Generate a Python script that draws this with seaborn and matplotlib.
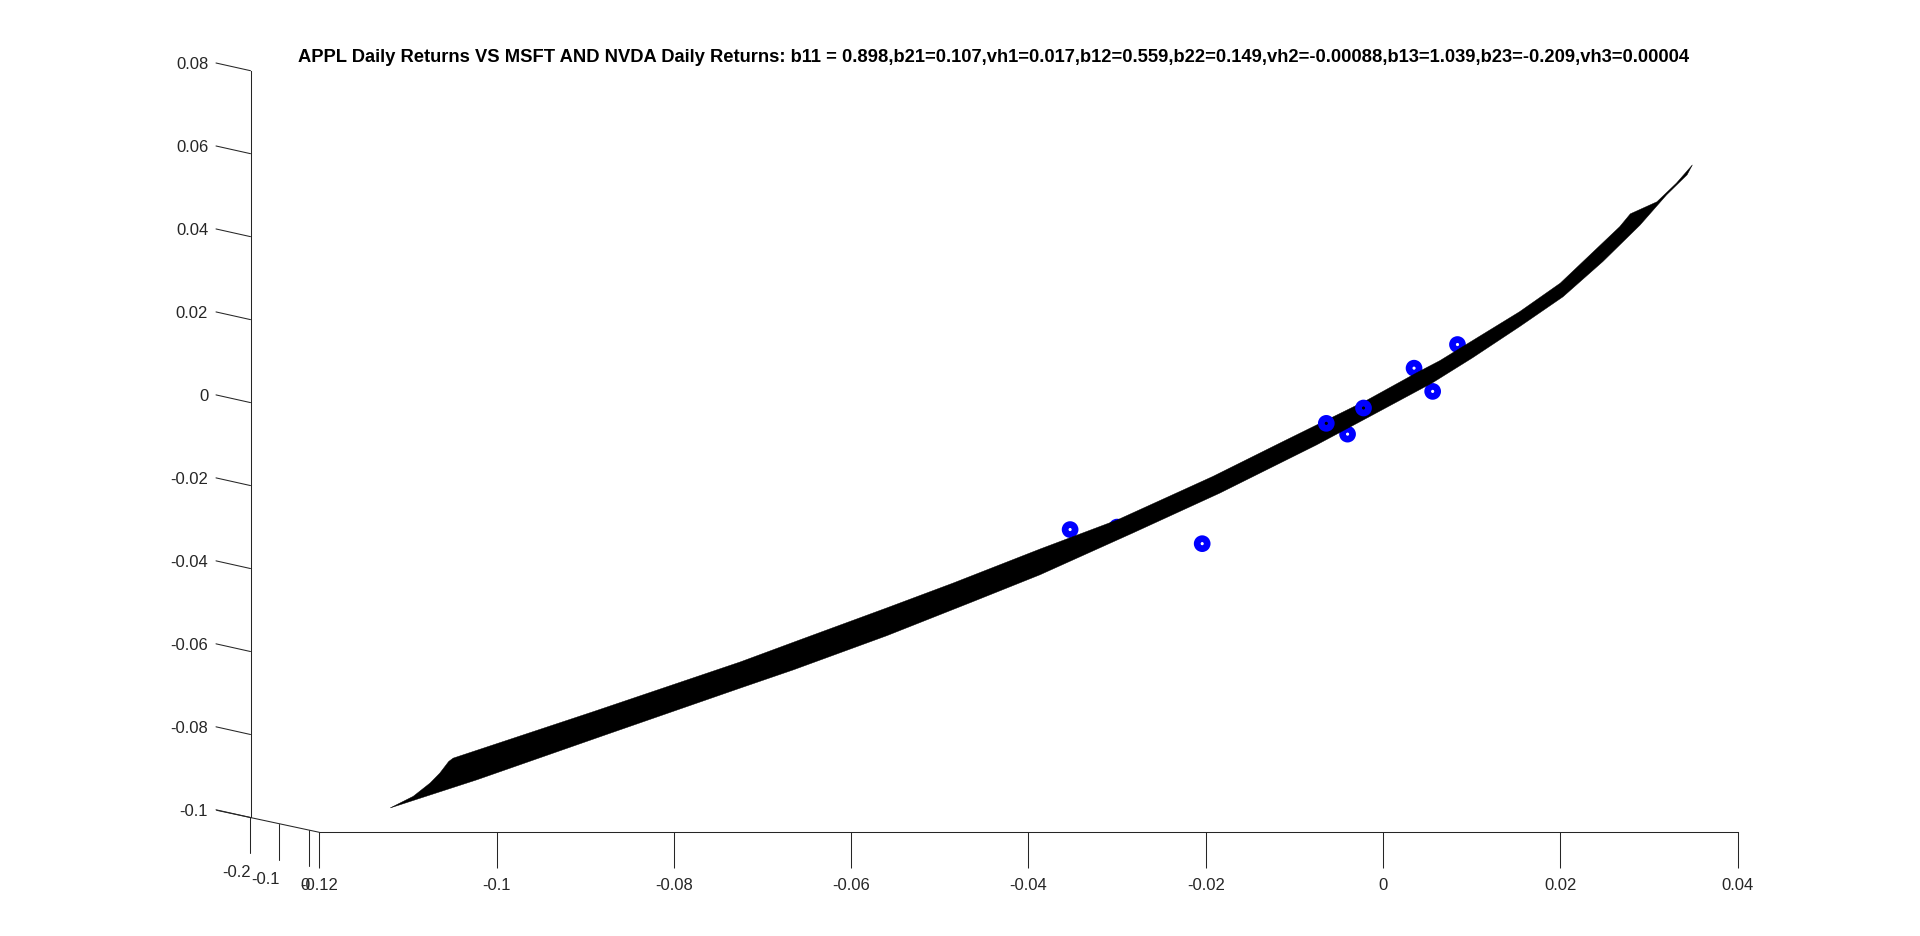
import numpy as np
import pandas as pd
import matplotlib
matplotlib.use("Agg")
import matplotlib.pyplot as plt
import matplotlib.transforms as mtrans
import seaborn as sns

# ---- data ----
TITLE = ("APPL Daily Returns VS MSFT AND NVDA Daily Returns: b11 = 0.898,b21=0.107,vh1=0.017,"
         "b12=0.559,b22=0.149,vh2=-0.00088,b13=1.039,b23=-0.209,vh3=0.00004")

x_ticks = [-0.12, -0.10, -0.08, -0.06, -0.04, -0.02, 0.0, 0.02, 0.04]
x_labels = ["-0.12", "-0.1", "-0.08", "-0.06", "-0.04", "-0.02", "0", "0.02", "0.04"]
z_ticks = [-0.10, -0.08, -0.06, -0.04, -0.02, 0.0, 0.02, 0.04, 0.06, 0.08]
z_labels = ["-0.1", "-0.08", "-0.06", "-0.04", "-0.02", "0", "0.02", "0.04", "0.06", "0.08"]
y_ticks = [-0.2, -0.1, 0.0]
y_labels = ["-0.2", "-0.1", "0"]

# fitted surface, seen edge-on: its upper and lower silhouette
upper_x = [-0.1120, -0.1094, -0.1075, -0.1064, -0.1054, -0.1049, -0.0891, -0.0725, -0.0658, -0.0560, -0.0485,
           -0.0387, -0.0300, -0.0192, -0.0113, -0.0018, 0.0038, 0.0064, 0.0154, 0.0200, 0.0267,
           0.0279, 0.0309, 0.0331, 0.0349]
upper_z = [-0.0977, -0.0949, -0.0917, -0.0893, -0.0865, -0.0857, -0.0745, -0.0625, -0.0572, -0.0495, -0.0435,
           -0.0353, -0.0283, -0.0178, -0.0094, 0.0006, 0.0072, 0.0101, 0.0219, 0.0288, 0.0424,
           0.0455, 0.0484, 0.0529, 0.0573]
lower_x = [-0.1120, -0.1022, -0.0876, -0.0725, -0.0665, -0.0560, -0.0463, -0.0387, -0.0282, -0.0184,
           -0.0075, -0.0018, 0.0056, 0.0101, 0.0154, 0.0203, 0.0248, 0.0290, 0.0320, 0.0343, 0.0349]
lower_z = [-0.0977, -0.0909, -0.0800, -0.0688, -0.0644, -0.0562, -0.0480, -0.0415, -0.0314, -0.0218,
           -0.0102, -0.0037, 0.0048, 0.0108, 0.0183, 0.0255, 0.0340, 0.0428, 0.0501, 0.0549, 0.0573]

# observations: behind the surface and in front of it
back_x = [-0.0353, -0.0300, -0.0204, -0.0040, 0.0035, 0.0056, 0.0084]
back_z = [-0.0306, -0.0300, -0.0340, -0.0076, 0.0083, 0.0027, 0.0140]
front_x = [-0.0064, -0.0022]
front_z = [-0.0050, -0.0013]

# ---- layout (pixels of the 1920x936 canvas) ----
W, H = 1920, 936
AX_L, AX_R, AX_T, AX_B = 250.5, 1737.6, 70.7, 832.3
XLIM = (-0.12776, 0.04)
ZLIM = (-0.10357, 0.08)
PX_X = (AX_R - AX_L) / (XLIM[1] - XLIM[0])
PX_Z = (AX_B - AX_T) / (ZLIM[1] - ZLIM[0])
INK = "#262626"
LW = 0.75

sns.set_theme(style="white")
plt.rcParams["font.family"] = ["Liberation Sans", "DejaVu Sans"]

fig = plt.figure(figsize=(W / 100, H / 100), dpi=100, facecolor="white")
ax = fig.add_axes([AX_L / W, 1 - AX_B / H, (AX_R - AX_L) / W, (AX_B - AX_T) / H])
ax.set_facecolor("none")
ax.set_xlim(*XLIM)
ax.set_ylim(*ZLIM)

marker_kw = dict(s=52, facecolor="none", edgecolor="#0000ff", linewidth=4.8, legend=False, ax=ax, clip_on=False)
sns.scatterplot(data=pd.DataFrame({"x": back_x, "z": back_z}), x="x", y="z", zorder=2, **marker_kw)
ax.fill(upper_x + lower_x[::-1], upper_z + lower_z[::-1], color="black", lw=0.3, zorder=3)
sns.scatterplot(data=pd.DataFrame({"x": front_x, "z": front_z}), x="x", y="z", zorder=4, **marker_kw)
ax.set_xlim(*XLIM)
ax.set_ylim(*ZLIM)
ax.set_xlabel("")
ax.set_ylabel("")

for name in ("top", "right"):
    ax.spines[name].set_visible(False)
for name in ("left", "bottom"):
    ax.spines[name].set_color(INK)
    ax.spines[name].set_linewidth(LW)
ax.spines["bottom"].set_bounds(x_ticks[0], x_ticks[-1])
ax.spines["left"].set_bounds(z_ticks[0], z_ticks[-1])

ax.set_xticks(x_ticks, x_labels)
ax.set_yticks(z_ticks, z_labels)
ax.tick_params(axis="x", bottom=True, direction="out", length=25.7, width=LW, color=INK,
               labelcolor=INK, labelsize=12, pad=7.5)
ax.tick_params(axis="y", left=False, length=0, labelcolor=INK, labelsize=12, pad=30.5)

# slanted z tick marks and their raised labels (the axis is a 3-D one)
lift = mtrans.ScaledTranslation(0, 7.7 / 100, fig.dpi_scale_trans)
for lab in ax.get_yticklabels():
    lab.set_transform(lab.get_transform() + lift)
for z in z_ticks:
    ax.plot([XLIM[0], XLIM[0] - 34.5 / PX_X], [z, z + 7.7 / PX_Z], color=INK, lw=LW, clip_on=False, zorder=2)

# receding y axis on the floor
y_px = lambda y: 309.0 + y * 295.0
floor_x = lambda y: x_ticks[0] + (y_px(y) - 319.3) / PX_X
floor_z = lambda y: ZLIM[0] + (319.3 - y_px(y)) * 0.2144 / PX_Z
y_ends = np.array([-0.313, 0.035])
ax.plot(floor_x(y_ends), floor_z(y_ends), color=INK, lw=LW, clip_on=False, zorder=2)
for y, lab in zip(y_ticks, y_labels):
    fx, fz = floor_x(y), floor_z(y)
    fz_end = fz - 36 / PX_Z
    ax.plot([fx, fx], [fz, fz_end], color=INK, lw=LW, clip_on=False, zorder=2)
    ax.annotate(lab, (fx, fz_end), xytext=(0.5, -14), textcoords="offset points",
                ha="right", va="center", fontsize=12, color=INK, annotation_clip=False)

ax.set_title(TITLE, fontsize=13.2, fontweight="bold", color="black", pad=6.3)

fig.savefig("out.png", dpi=100, facecolor="white")
